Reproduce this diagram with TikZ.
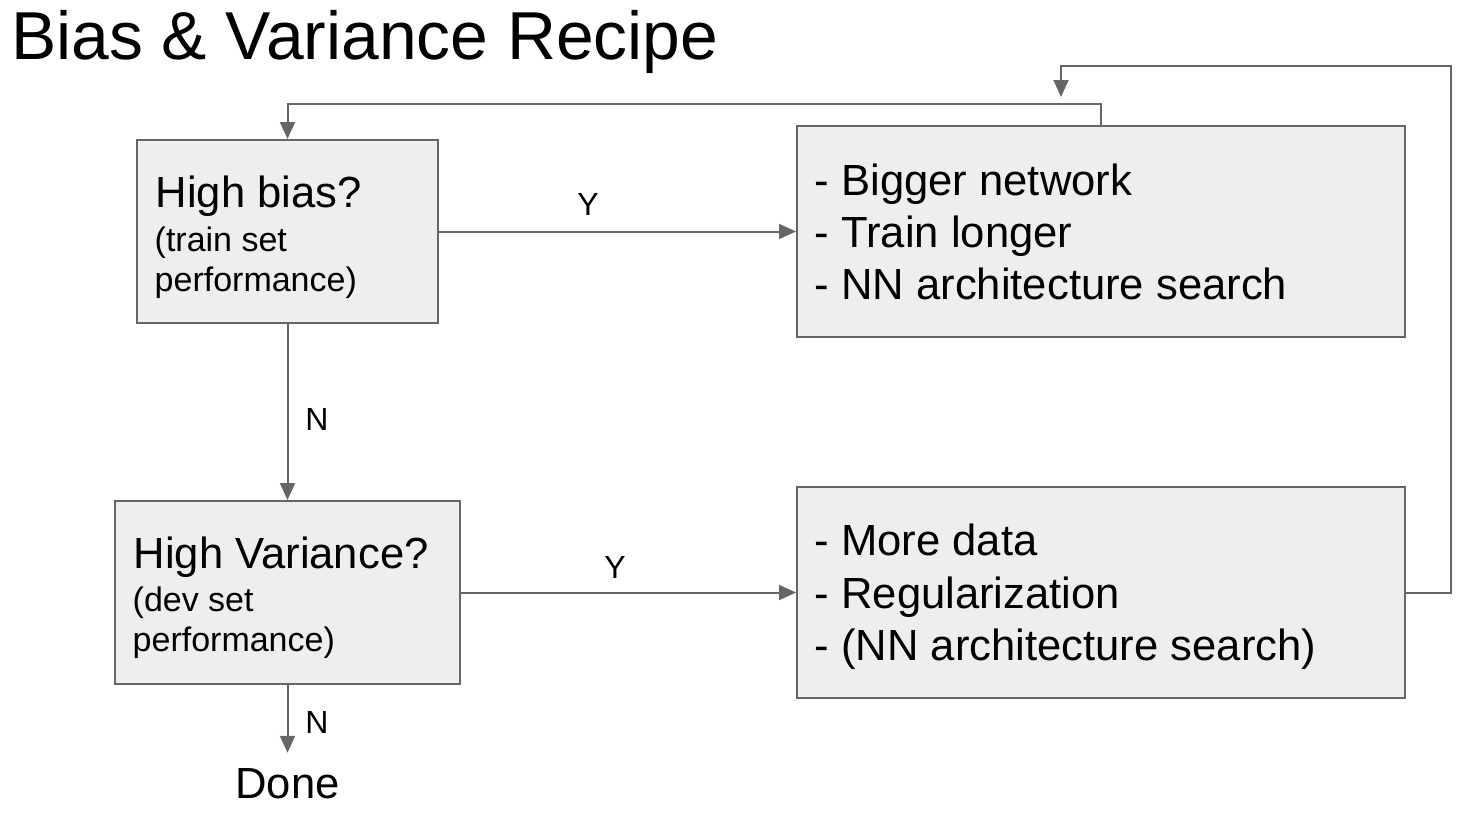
\documentclass[tikz,border=0pt]{standalone}
\usepackage{fontspec}
\setmainfont{Liberation Sans}
\usetikzlibrary{arrows.meta}
\definecolor{linegray}{HTML}{666666}
\definecolor{boxfill}{HTML}{EEEEEE}
\tikzset{
  boxnode/.style={draw=linegray, fill=boxfill, line width=2pt, rectangle, inner sep=0pt},
  txt/.style={anchor=base west, inner sep=0pt, font=\fontsize{43.6}{52}\selectfont},
  smalltxt/.style={anchor=base west, inner sep=0pt, font=\fontsize{34}{40}\selectfont},
  lbl/.style={anchor=base, inner sep=0pt, font=\fontsize{32}{38}\selectfont},
  arr/.style={draw=linegray, line width=2pt, -{Triangle[width=15pt,length=17pt]}, color=linegray}
}
\begin{document}
\begin{tikzpicture}[x=1pt,y=-1pt]
\useasboundingbox (0,0) rectangle (1462,814);
% title
\node[anchor=base west, inner sep=0pt, font=\fontsize{67.8}{78}\selectfont] (title) at (11,59) {Bias \& Variance Recipe};
% boxes
\node[boxnode, minimum width=301pt, minimum height=183pt] (b1) at (287.5,231.5) {};
\node[boxnode, minimum width=608pt, minimum height=211pt] (b2) at (1101,231.5) {};
\node[boxnode, minimum width=345pt, minimum height=183pt] (b3) at (287.5,592.5) {};
\node[boxnode, minimum width=608pt, minimum height=211pt] (b4) at (1101,592.5) {};
% box texts
\node[txt] (t1a) at (155.5,207) {High bias?};
\node[smalltxt] (t1b) at (154.5,251) {(train set};
\node[smalltxt] (t1c) at (154.5,291) {performance)};
\node[txt] (t2a) at (814.5,195) {- Bigger network};
\node[txt] (t2b) at (814.5,247) {- Train longer};
\node[txt] (t2c) at (814.5,299) {- NN architecture search};
\node[txt] (t3a) at (133.5,568) {High Variance?};
\node[smalltxt] (t3b) at (132.5,611) {(dev set};
\node[smalltxt] (t3c) at (132.5,651) {performance)};
\node[txt] (t4a) at (814.5,555) {- More data};
\node[txt] (t4b) at (814.5,608) {- Regularization};
\node[txt] (t4c) at (814.5,660) {- (NN architecture search)};
% done
\node[anchor=base, inner sep=0pt, font=\fontsize{43.6}{52}\selectfont] (done) at (287.5,798) {Done};
% labels
\node[lbl] (y1) at (588,215) {Y};
\node[lbl] (y2) at (615,578) {Y};
\node[lbl] (n1) at (317,430) {N};
\node[lbl] (n2) at (317,733) {N};
% connectors
\draw[arr] (b1.east) -- (b2.west);
\draw[arr] (b3.east) -- (b4.west);
\draw[arr] (b1.south) -- (b3.north);
\draw[arr, shorten >=15pt] (b3.south) -- (done.north);
\draw[arr] (b2.north) -- ++(0,-21) -| (b1.north);
\coordinate (lptop) at (1061,66);
\coordinate (lpend) at (1061,97);
\draw[arr] (b4.east) -- ++(45,0) |- (lptop) -- (lpend);
\end{tikzpicture}
\end{document}
